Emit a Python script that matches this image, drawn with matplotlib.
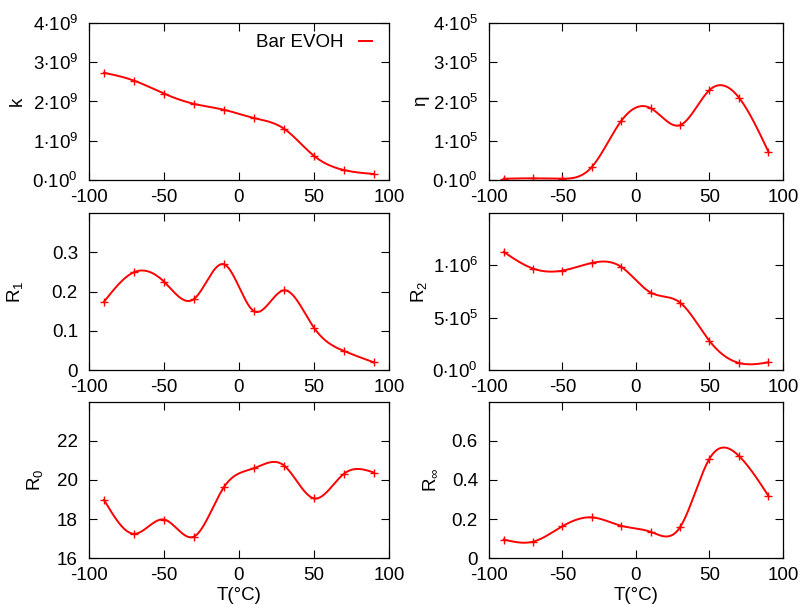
import matplotlib
matplotlib.use("Agg")
import matplotlib.pyplot as plt
import numpy as np
from matplotlib.ticker import FuncFormatter
from matplotlib.lines import Line2D

plt.rcParams['font.family'] = ['Liberation Sans', 'DejaVu Sans']
plt.rcParams['mathtext.fontset'] = 'custom'
plt.rcParams['mathtext.rm'] = 'Liberation Sans'
plt.rcParams['mathtext.it'] = 'Liberation Sans:italic'
plt.rcParams['mathtext.default'] = 'rm'

# Temperatures (°C)
temps = [-90, -70, -50, -30, -10, 10, 30, 50, 70, 90]

# Parameters of Bar EVOH
k_vals = [2.73e9, 2.53e9, 2.20e9, 1.94e9, 1.79e9, 1.58e9, 1.31e9, 0.62e9, 0.26e9, 0.16e9]
eta_vals = [4.0e3, 5.0e3, 4.0e3, 3.4e4, 1.51e5, 1.83e5, 1.40e5, 2.29e5, 2.10e5, 7.3e4]
r1_vals = [0.174, 0.249, 0.225, 0.181, 0.269, 0.150, 0.203, 0.108, 0.049, 0.020]
r2_vals = [1.127e6, 0.968e6, 0.949e6, 1.022e6, 0.984e6, 0.740e6, 0.644e6, 0.279e6, 0.070e6, 0.076e6]
r0_vals = [18.99, 17.25, 17.98, 17.11, 19.64, 20.60, 20.74, 19.06, 20.32, 20.38]
rinf_vals = [0.096, 0.085, 0.164, 0.209, 0.166, 0.135, 0.159, 0.509, 0.523, 0.320]

x_ticks = [-100, -50, 0, 50, 100]
x_ticklabels = ['-100', '-50', '0', '50', '100']


def csplines(x, y, n=400):
    # natural cubic spline, like gnuplot "smooth csplines"
    x = np.asarray(x, float)
    y = np.asarray(y, float)
    N = len(x)
    h = np.diff(x)
    A = np.zeros((N, N))
    b = np.zeros(N)
    A[0, 0] = 1
    A[-1, -1] = 1
    for i in range(1, N - 1):
        A[i, i - 1] = h[i - 1]
        A[i, i] = 2 * (h[i - 1] + h[i])
        A[i, i + 1] = h[i]
        b[i] = 6 * ((y[i + 1] - y[i]) / h[i] - (y[i] - y[i - 1]) / h[i - 1])
    M = np.linalg.solve(A, b)
    xs = np.linspace(x[0], x[-1], n)
    idx = np.clip(np.searchsorted(x, xs) - 1, 0, N - 2)
    x0, x1 = x[idx], x[idx + 1]
    hh = x1 - x0
    t0 = x1 - xs
    t1 = xs - x0
    ys = (M[idx] * t0**3 + M[idx + 1] * t1**3) / (6 * hh) \
        + (y[idx] / hh - M[idx] * hh / 6) * t0 \
        + (y[idx + 1] / hh - M[idx + 1] * hh / 6) * t1
    return xs, ys


def sci_fmt(val, pos):
    if val == 0:
        return r'0$\cdot$10$^{0}$'
    e = int(np.floor(np.log10(abs(val)) + 1e-9))
    m = val / 10**e
    return r'%d$\cdot$10$^{%d}$' % (round(m), e)


W, H = 803, 605
fig = plt.figure(figsize=(W / 100, H / 100), dpi=100)


def make_ax(left, right, top, bottom):
    return fig.add_axes([left / W, 1 - bottom / H, (right - left) / W, (bottom - top) / H])


rows = [(22.7, 180.3), (212.7, 370.3), (401.7, 558.3)]
cols = [(89, 389), (489, 783)]

# data, label, ylim, yticks, sci format, ylabel x position (px)
panels = [
    (k_vals, 'k', (0, 4e9), [0, 1e9, 2e9, 3e9, 4e9], True, 26),
    (eta_vals, r'$\eta$', (0, 4e5), [0, 1e5, 2e5, 3e5, 4e5], True, 432),
    (r1_vals, r'R$_1$', (0, 0.4), [0, 0.1, 0.2, 0.3], False, 25),
    (r2_vals, r'R$_2$', (0, 1.5e6), [0, 5e5, 1e6], True, 429),
    (r0_vals, r'R$_0$', (16, 24), [16, 18, 20, 22], False, 45),
    (rinf_vals, r'R$_\infty$', (0, 0.8), [0, 0.2, 0.4, 0.6], False, 439),
]

red = '#ff0000'
fs = 13.5
for i, (vals, lab, ylim, yt, sci, lx) in enumerate(panels):
    r, c = divmod(i, 2)
    ax = make_ax(cols[c][0], cols[c][1], rows[r][0], rows[r][1])
    xs, ys = csplines(temps, vals)
    ax.plot(xs, ys, color=red, lw=1.4)
    ax.plot(temps, vals, linestyle='none', marker='+', color=red, ms=6, mew=1.0)
    ax.set_xlim(-100, 100)
    ax.set_ylim(*ylim)
    ax.set_xticks(x_ticks)
    ax.set_xticklabels(x_ticklabels)
    ax.set_yticks(yt)
    if sci:
        ax.yaxis.set_major_formatter(FuncFormatter(sci_fmt))
    else:
        ax.yaxis.set_major_formatter(FuncFormatter(lambda v, p: ('%g' % round(v, 3))))
    ax.tick_params(direction='in', length=6, width=0.8, top=True, right=True,
                   labelsize=fs)
    ax.tick_params(axis='x', pad=6)
    ax.tick_params(axis='y', pad=8)
    ax.set_ylabel(lab, fontsize=fs)
    left_px = cols[c][0]
    ax.yaxis.set_label_coords((lx - left_px) / (cols[c][1] - left_px), 0.5)
    for s in ax.spines.values():
        s.set_linewidth(0.9)
    if r == 2:
        ax.set_xlabel('T(°C)', fontsize=fs, labelpad=2.5)
    if i == 0:
        h = Line2D([], [], color=red, lw=1.4)
        ax.legend([h], ['Bar EVOH'], loc='upper right', frameon=False, markerfirst=False,
                  fontsize=fs, handlelength=0.7, handletextpad=0.8,
                  borderaxespad=0.2, bbox_to_anchor=(0.98, 1.0))

fig.savefig('out.png', dpi=100)
